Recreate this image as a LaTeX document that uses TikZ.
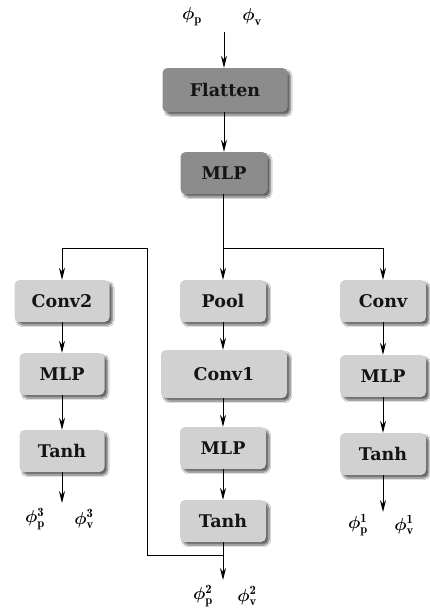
\documentclass[tikz,border=0pt]{standalone}
\usepackage{fontspec}
\usepackage{amsmath,bm}
\newfontfamily\boxfont{DejaVu Serif}
\usetikzlibrary{arrows.meta,shadows.blur}
\tikzset{
  blk/.style={rounded corners=5pt, minimum height=42pt, inner sep=0pt,
    font=\boxfont\bfseries\fontsize{17.5}{20}\selectfont, text=black!92,
    blur shadow={shadow xshift=3pt, shadow yshift=-3pt, shadow blur steps=8, shadow opacity=60}},
  darkblk/.style={blk, fill=black!45},
  lightblk/.style={blk, fill=black!18},
  flow/.style={line width=1pt, -{Stealth[length=12pt,width=6pt]}},
  wire/.style={line width=1pt},
  lbl/.style={inner sep=0pt, font=\fontsize{18}{20}\selectfont}
}
\newcommand{\phiv}[2]{$\bm{\phi}^{\mathbf{#2}}_{\mathbf{#1}}$}
\begin{document}
\begin{tikzpicture}[x=1pt,y=-1pt]
\useasboundingbox (0,0) rectangle (430,608);
\fill[white] (0,0) rectangle (430,608);

% inputs
\node[lbl] (inp) at (192,17) {\phiv{p}{}};
\node[lbl] (inv) at (252,17) {\phiv{v}{}};
\coordinate (instart) at (224,32);

% trunk
\node[darkblk, minimum width=125pt, minimum height=44pt] (flat) at (225,90) {Flatten};
\node[darkblk, minimum width=87pt] (mlp0) at (224,173) {MLP};

% left branch
\node[lightblk, minimum width=95pt] (conv2) at (62,301) {Conv2};
\node[lightblk, minimum width=85pt] (mlp3) at (62,374) {MLP};
\node[lightblk, minimum width=85pt] (tanh3) at (62,451) {Tanh};

% middle branch
\node[lightblk, minimum width=86pt] (pool) at (223,301) {Pool};
\node[lightblk, minimum width=126pt, minimum height=48pt] (conv1) at (224,374) {Conv1};
\node[lightblk, minimum width=86pt] (mlp2) at (223,448) {MLP};
\node[lightblk, minimum width=86pt] (tanh2) at (223,521) {Tanh};

% right branch
\node[lightblk, minimum width=86pt] (conv) at (383,301) {Conv};
\node[lightblk, minimum width=86pt] (mlp1) at (383,376) {MLP};
\node[lightblk, minimum width=86pt] (tanh1) at (383,454) {Tanh};

% outputs
\node[lbl] (o3p) at (35,519) {\phiv{p}{3}};
\node[lbl] (o3v) at (84,519) {\phiv{v}{3}};
\node[lbl] (o2p) at (203,596) {\phiv{p}{2}};
\node[lbl] (o2v) at (247,596) {\phiv{v}{2}};
\node[lbl] (o1p) at (358,525) {\phiv{p}{1}};
\node[lbl] (o1v) at (404,525) {\phiv{v}{1}};

\coordinate (o3end) at (62,503);
\coordinate (o2end) at (223,580);
\coordinate (o1end) at (383,512);
\coordinate (split) at (223,248);
\coordinate (loop) at (223,555);
\coordinate (loopcorner) at (147,555);
\coordinate (looptop) at (147,248);

% trunk connectors
\draw[flow] (instart) -- (flat.north -| instart);
\draw[flow] (flat.south -| mlp0) -- (mlp0.north);
\draw[wire] (mlp0.south -| split) -- (split);
\draw[flow] (split) -- (pool.north -| split);
\draw[flow] (split) -| (conv.north);

% middle column
\draw[flow] (pool.south -| mlp2) -- (conv1.north -| mlp2);
\draw[flow] (conv1.south -| mlp2) -- (mlp2.north);
\draw[flow] (mlp2) -- (tanh2);
\draw[flow] (tanh2.south) -- (o2end);

% feedback from the middle output into the left branch
\draw[flow] (loop) -- (loopcorner) -- (looptop) -| (conv2.north);

% left column
\draw[flow] (conv2) -- (mlp3);
\draw[flow] (mlp3) -- (tanh3);
\draw[flow] (tanh3.south) -- (o3end);

% right column
\draw[flow] (conv) -- (mlp1);
\draw[flow] (mlp1) -- (tanh1);
\draw[flow] (tanh1.south) -- (o1end);
\end{tikzpicture}
\end{document}
